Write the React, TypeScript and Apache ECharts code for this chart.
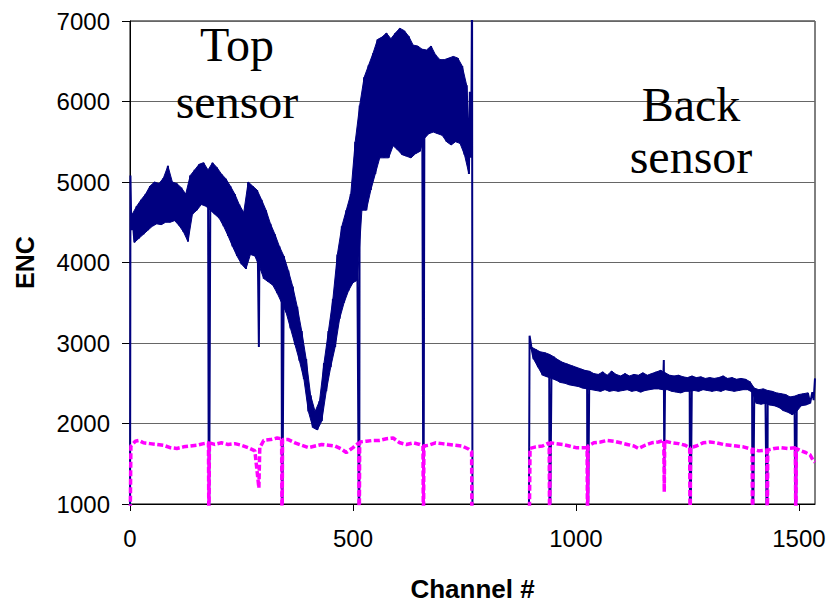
import React, { useEffect, useRef } from "react";
import * as echarts from "echarts";

// ---- axis ticks ----
const xTickValues = [0, 500, 1000, 1500];
const X_MAX = 1536;
const Y_MIN = 1000;
const Y_MAX = 7000;

// ---- navy (ENC) series: top sensor, upper / lower edge of the noise band ----
// samples at channel 5, 15, 25 ... 755 (upper value at ch, lower value at ch+5)
const TOP_START = 5;
const SAMPLE_STEP = 10;
const LO_OFFSET = 5;
const topHi = [
  4600, 4700, 4780, 4850, 4950, 5000, 4980, 5050, 5200, 5000,
  4980, 4930, 4850, 5080, 5150, 5220, 5240, 5150, 5240, 5180,
  5100, 5040, 4950, 4850, 4720, 4620, 5000, 4950, 4900, 4780,
  4650, 4480, 4350, 4200, 4080, 3900, 3700, 3450, 3150, 2800,
  2350, 2150, 2280, 2750, 3150, 3550, 4100, 4450, 4650, 4850,
  5500, 5950, 6300, 6450, 6600, 6770, 6800, 6850, 6780, 6850,
  6910, 6880, 6810, 6700, 6690, 6650, 6640, 6690, 6580, 6520,
  6520, 6540, 6560, 6540, 6440, 6200,
];
const topLo = [
  4250, 4300, 4350, 4400, 4450, 4480, 4470, 4500, 4500, 4520,
  4460, 4380, 4260, 4600, 4650, 4720, 4700, 4650, 4600, 4550,
  4450, 4330, 4200, 4080, 3980, 3920, 4100, 4080, 3950, 3800,
  3760, 3720, 3620, 3500, 3380, 3180, 2980, 2780, 2550, 2150,
  1950, 1920, 2030, 2400, 2700, 2950, 3300, 3500, 3650, 3750,
  3780, 4650, 4650, 4900, 5100, 5300, 5300, 5300, 5450, 5400,
  5340, 5320, 5300, 5350, 5380, 5540, 5600, 5620, 5600, 5580,
  5500, 5460, 5500, 5480, 5340, 5100,
];

// back sensor: samples at channel 900, 910 ... 1520
const BACK_START = 900;
const backHi = [
  2950, 2920, 2890, 2880, 2860, 2830, 2790, 2760, 2740, 2720,
  2700, 2680, 2660, 2650, 2620, 2610, 2640, 2600, 2650, 2610,
  2590, 2620, 2590, 2610, 2600, 2630, 2600, 2620, 2640, 2660,
  2630, 2600, 2590, 2600, 2580, 2570, 2590, 2570, 2580, 2560,
  2570, 2560, 2570, 2590, 2560, 2570, 2550, 2560, 2550, 2520,
  2440, 2420, 2430, 2410, 2400, 2380, 2370, 2360, 2330, 2340,
  2360, 2370, 2380,
];
const backLo = [
  2800, 2700, 2600, 2580, 2560, 2540, 2510, 2500, 2480, 2470,
  2460, 2440, 2430, 2420, 2410, 2400, 2420, 2400, 2410, 2400,
  2410, 2420, 2400, 2410, 2390, 2410, 2420, 2430, 2430, 2420,
  2420, 2400, 2390, 2380, 2400, 2400, 2410, 2400, 2420, 2410,
  2400, 2410, 2400, 2420, 2410, 2400, 2410, 2420, 2420, 2390,
  2250, 2240, 2250, 2230, 2220, 2200, 2160, 2140, 2110, 2150,
  2220, 2230, 2250,
];

// single channels: edges, the spike at 767, dead channels (dips)
const navyKeyPoints: [number, number][] = [
  [0, 0], [1, 5080], [3, 4400],
  [762, 6120], [765, 5300], [767, 7500], [768, 0], [894, 0], [896, 3090],
  [1530, 2390], [1533, 2290], [1536, 2560],
];
const navyDips: [number, number][] = [
  [177, 0], [289, 2950], [341, 0], [514, 0], [658, 0],
  [941, 0], [1026, 0], [1197, 2790], [1198, 1420], [1256, 0],
  [1396, 0], [1429, 0], [1493, 0],
];

// ---- magenta series ----
const magentaTop: [number, number][] = [
  [0, 500], [2, 1720], [12, 1780], [20, 1790], [30, 1760], [45, 1750], [60, 1740],
  [75, 1730], [90, 1700], [105, 1690], [120, 1710], [135, 1720], [150, 1730],
  [165, 1750], [176, 1760], [177, 500], [178, 1760], [190, 1740], [205, 1760],
  [220, 1740], [235, 1750], [250, 1730], [265, 1700], [280, 1660], [289, 1200],
  [291, 1700], [300, 1790], [315, 1800], [330, 1820], [340, 1810], [341, 500],
  [342, 1800], [355, 1800], [370, 1760], [385, 1730], [400, 1700], [415, 1720],
  [430, 1740], [445, 1730], [460, 1720], [475, 1680], [485, 1640], [500, 1700],
  [513, 1760], [514, 500], [515, 1770], [530, 1780], [545, 1790], [560, 1790],
  [575, 1810], [590, 1820], [605, 1760], [620, 1740], [635, 1760], [650, 1740],
  [657, 1720], [658, 500], [659, 1720], [670, 1730], [685, 1760], [700, 1750],
  [715, 1740], [730, 1730], [745, 1720], [760, 1680], [766, 1650], [767, 500],
];
const magentaBack: [number, number][] = [
  [895, 500], [897, 1690], [910, 1710], [925, 1720], [940, 1760], [941, 500],
  [942, 1760], [955, 1750], [970, 1740], [985, 1720], [1000, 1700], [1015, 1700],
  [1025, 1700], [1026, 500], [1027, 1720], [1040, 1760], [1055, 1770], [1070, 1790],
  [1085, 1780], [1100, 1760], [1115, 1740], [1130, 1720], [1140, 1690], [1155, 1730],
  [1170, 1760], [1185, 1770], [1197, 1790], [1198, 1150], [1199, 1780], [1215, 1760],
  [1230, 1750], [1245, 1730], [1255, 1700], [1256, 500], [1257, 1700], [1270, 1720],
  [1285, 1760], [1300, 1770], [1315, 1760], [1330, 1740], [1345, 1730], [1360, 1720],
  [1375, 1710], [1395, 1680], [1396, 500], [1397, 1680], [1410, 1660], [1428, 1670],
  [1429, 500], [1430, 1670], [1445, 1690], [1460, 1700], [1475, 1690], [1492, 1700],
  [1493, 500], [1494, 1690], [1505, 1660], [1515, 1640], [1525, 1610], [1532, 1540],
  [1536, 1520],
];

const bands = [
  { start: TOP_START, hi: topHi, lo: topLo },
  { start: BACK_START, hi: backHi, lo: backLo },
];

function buildNavy(): [number, number][] {
  const pts: [number, number][] = [];
  bands.forEach((b) => {
    b.hi.forEach((v, i) => {
      const ch = b.start + i * SAMPLE_STEP;
      pts.push([ch, v]);
      pts.push([ch + LO_OFFSET, b.lo[i]]);
    });
  });
  pts.push(...navyKeyPoints, ...navyDips);
  pts.sort((a, b) => a[0] - b[0]);
  return pts;
}

const SANS = "'Liberation Sans', Arial, sans-serif";
const SERIF = "'Liberation Serif', 'Times New Roman', serif";
const NAVY = "#000080";

export default function App() {
  const ref = useRef<HTMLDivElement>(null);
  useEffect(() => {
    if (!ref.current) return;
    const chart = echarts.init(ref.current, undefined, { renderer: "svg" });
    const annot = (text: string, x: number, y: number) => ({
      type: "text",
      x,
      y,
      z: 10,
      style: {
        text,
        fill: "#000",
        font: `48px ${SERIF}`,
        align: "center",
        verticalAlign: "middle",
      },
    });
    chart.setOption({
      animation: false,
      backgroundColor: "#fff",
      grid: {
        left: 130,
        right: 14,
        top: 21,
        bottom: 96,
        show: true,
        borderColor: "#000",
        borderWidth: 1,
        backgroundColor: "transparent",
      },
      xAxis: {
        type: "value",
        min: 0,
        max: X_MAX,
        interval: 500,
        name: "Channel #",
        nameLocation: "middle",
        nameGap: 72,
        nameTextStyle: { fontFamily: SANS, fontSize: 26, fontWeight: "bold", color: "#000" },
        axisLine: { show: true, onZero: false, lineStyle: { color: "#000", width: 1 } },
        axisTick: { show: true, length: 7, lineStyle: { color: "#000" }, customValues: xTickValues },
        axisLabel: {
          fontFamily: SANS,
          fontSize: 24,
          color: "#000",
          margin: 22,
          customValues: xTickValues,
          formatter: (v: number) => String(v),
        },
        splitLine: { show: false },
      },
      yAxis: {
        type: "value",
        min: Y_MIN,
        max: Y_MAX,
        interval: 1000,
        name: "ENC",
        nameLocation: "middle",
        nameGap: 93,
        nameTextStyle: { fontFamily: SANS, fontSize: 25, fontWeight: "bold", color: "#000" },
        axisLine: { show: true, lineStyle: { color: "#000", width: 1 } },
        axisTick: { show: true, length: 8, lineStyle: { color: "#000" } },
        axisLabel: {
          fontFamily: SANS,
          fontSize: 24,
          color: "#000",
          margin: 20,
          formatter: (v: number) => String(v),
        },
        splitLine: { show: true, lineStyle: { color: "#666", width: 1 } },
      },
      graphic: [
        annot("Top", 237, 44),
        annot("sensor", 237, 101),
        annot("Back", 691, 104),
        annot("sensor", 691, 156),
      ],
      series: [
        {
          type: "custom",
          data: bands.map((b, i) => [b.start, b.hi[0], i]),
          encode: { x: 0, y: 1 },
          silent: true,
          z: 1,
          renderItem: (params: any, api: any) => {
            const b = bands[params.dataIndex];
            const up = b.hi.map((v, i) => api.coord([b.start + i * SAMPLE_STEP, v]));
            const down = b.lo
              .map((v, i) => api.coord([b.start + i * SAMPLE_STEP + LO_OFFSET, v]))
              .reverse();
            return {
              type: "polygon",
              shape: { points: up.concat(down) },
              style: { fill: NAVY, stroke: NAVY, lineWidth: 1 },
            };
          },
        },
        {
          type: "line",
          data: buildNavy(),
          showSymbol: false,
          symbol: "none",
          clip: true,
          lineStyle: { color: NAVY, width: 2 },
          z: 2,
        },
        {
          type: "line",
          data: [...magentaTop, ...magentaBack],
          showSymbol: false,
          symbol: "none",
          clip: true,
          lineStyle: { color: "#FF00FF", width: 3.5, type: [6, 2.5] },
          z: 3,
        },
      ],
    });
    return () => chart.dispose();
  }, []);
  return (
    <div
      ref={ref}
      style={{ position: "absolute", left: 0, top: 0, width: 829, height: 607, background: "#fff" }}
    />
  );
}
